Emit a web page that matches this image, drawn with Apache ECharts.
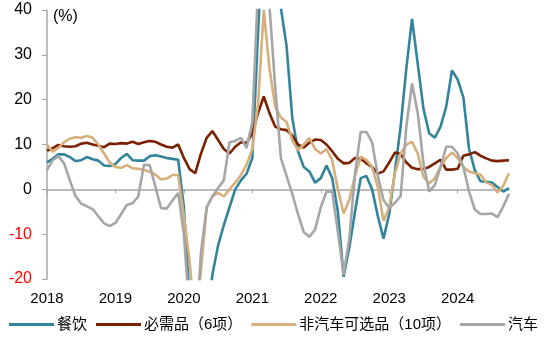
<!DOCTYPE html>
<html>
<head>
<meta charset="utf-8">
<script src="https://cdn.jsdelivr.net/npm/echarts@6/dist/echarts.min.js"></script>
<style>
html,body{margin:0;padding:0;background:#fff;}
#c{width:550px;height:343px;}
</style>
</head>
<body>
<div id="c"></div>
<script>
var years = ['2018','2019','2020','2021','2022','2023','2024'];
var lastYearMonths = 10;
var categories = [];
years.forEach(function (y, yi) {
  var n = (yi === years.length - 1) ? lastYearMonths : 12;
  for (var m = 1; m <= n; m++) categories.push(y + '-' + (m < 10 ? '0' + m : m));
});

var seriesNames = ['餐饮', '必需品（6项）', '非汽车可选品（10项）', '汽车'];

var catering = [6.0,6.8,7.8,7.8,7.2,6.3,6.5,7.2,6.7,6.4,5.3,5.2,
  5.6,7.0,7.9,6.5,6.4,6.4,7.4,7.6,7.3,7.0,6.8,6.6,
  -4,-25,-40,-38,-30,-19,-12.5,-8,-4,0,2,3.5,
  7,35,60,70,55,40.5,32,16,8.5,5,4,1.5,
  2.5,5.3,2.5,-5,-19.5,-13,-5,2.5,3,0,-6,-11,
  -5.5,4,14,27,38,28,18,12.5,11.5,14,18.5,26.5,
  24.5,20.5,9,4.3,1.8,1.7,1.5,0.5,-0.5,0.3];

var essentials = [8.6,9.2,9.9,9.6,9.5,9.6,10.2,10.4,10.0,9.7,9.4,10.2,
  10.1,10.3,10.2,10.6,10.1,10.5,10.8,10.6,10.0,9.5,9.3,10.0,
  7.0,4.5,3.6,8.0,11.5,13.0,11.0,9.0,8.0,9.5,10.5,10.3,
  12.5,17.0,20.7,17.0,14.0,13.4,13.2,12.0,10.0,9.3,10.4,11.1,
  11.0,10.0,8.5,6.8,5.8,5.9,7.0,6.8,5.8,5.0,3.5,4.0,
  6.0,8.2,7.9,6.0,4.8,4.5,4.5,5.0,5.8,6.6,4.4,4.4,
  4.6,7.5,7.8,8.3,7.5,6.9,6.4,6.3,6.4,6.5];

var nonAuto = [9.9,8.4,9.3,10.5,11.3,11.6,11.5,11.9,11.5,10.0,8.0,6.0,
  5.0,4.8,5.4,4.7,4.6,4.3,3.9,3.3,2.2,2.4,3.2,3.2,
  -6,-16,-30,-18,-4,-1.5,-0.8,-1.6,0,1.5,3.2,5.5,
  9,19,40,27,18.5,16,15,11,8.7,10,11.4,9,
  8,9,6.5,0,-5.4,-2.4,3,7.3,6.5,5,0.5,-7,
  -4,3.5,8,10,10.6,8,2.8,1.3,2.5,5,7,8.2,
  7,5,4,3.6,3.3,1.5,1,-0.7,0.8,3.6];

var auto = [4.3,6.5,7.4,5.8,2,-1.5,-3.2,-3.8,-4.4,-6,-7.6,-8.2,
  -7.5,-5.5,-3.5,-3.1,-1.6,5.5,5.4,0.6,-4.2,-4.3,-2.5,-0.8,
  -10,-28,-35,-14,-4,-1.6,0.3,2,10.5,10.8,11.5,9.2,
  15,45,65,41,23,7,3,-1,-5.5,-9.5,-10.6,-9,
  -4,-0.5,-0.5,-9.5,-19,-11,3.5,12.8,12.8,10.5,3,-2.4,
  -4.2,-3,-1.5,14,23.6,17,5.8,-0.5,1,5,9.5,9.5,
  8,5,-0.5,-4.5,-5.5,-5.5,-5.4,-6.2,-3.8,-1];

var colors = ['#31849B', '#7B2100', '#D6AF7C', '#A6A6A6'];
var yTicks = {min: -20, max: 40, interval: 10};

var font = '"Liberation Sans", Arial, "Noto Sans CJK SC", sans-serif';
var chart = echarts.init(document.getElementById('c'), null, {renderer: 'canvas'});

function mk(name, data, color) {
  return {
    name: name, type: 'line', data: data, xAxisIndex: 0,
    symbol: 'none', smooth: false, clip: true,
    lineStyle: {width: 2.6, color: color},
    itemStyle: {color: color},
    emphasis: {disabled: true}
  };
}

chart.setOption({
  animation: false,
  color: colors,
  textStyle: {fontFamily: font},
  grid: {left: 47, right: 41, top: 10, bottom: 64, containLabel: false},
  legend: {
    left: 9, top: 317, width: 545, padding: 0, itemWidth: 45, itemHeight: 3, itemGap: 9, icon: 'rect',
    textStyle: {fontSize: 15, color: '#000', fontFamily: font, padding: [0, 0, 0, -2]},
    data: seriesNames
  },
  graphic: [{type: 'text', left: 53, top: 9, style: {text: '(%)', font: '16px ' + font, fill: '#000'}}],
  xAxis: [{
    type: 'category', data: categories, boundaryGap: false, position: 'bottom',
    axisLine: {show: true, onZero: true, lineStyle: {color: '#A6A6A6', width: 1.5}},
    axisTick: {show: true, length: 4, interval: function (i) { return i % 12 === 0; }, lineStyle: {color: '#A6A6A6'}},
    axisLabel: {show: false},
    splitLine: {show: false}
  }, {
    type: 'category', data: categories, boundaryGap: false, position: 'bottom',
    axisLine: {show: false, onZero: false},
    axisTick: {show: false},
    axisLabel: {
      show: true, margin: 12, fontSize: 15, color: '#000', fontFamily: font,
      interval: function (i) { return i % 12 === 0; },
      formatter: function (v) { return v.slice(0, 4); }
    },
    splitLine: {show: false}
  }],
  yAxis: {
    type: 'value', min: yTicks.min, max: yTicks.max, interval: yTicks.interval,
    axisLine: {show: true, lineStyle: {color: '#A6A6A6', width: 1.5}},
    axisTick: {show: true, length: 5, lineStyle: {color: '#A6A6A6'}},
    axisLabel: {
      margin: 15, fontSize: 16, fontFamily: font,
      color: function (v) { return Number(v) < 0 ? '#FF0000' : '#000'; }
    },
    splitLine: {show: false}
  },
  series: [
    mk(seriesNames[0], catering, colors[0]),
    mk(seriesNames[1], essentials, colors[1]),
    mk(seriesNames[2], nonAuto, colors[2]),
    mk(seriesNames[3], auto, colors[3])
  ]
});
</script>
</body>
</html>
